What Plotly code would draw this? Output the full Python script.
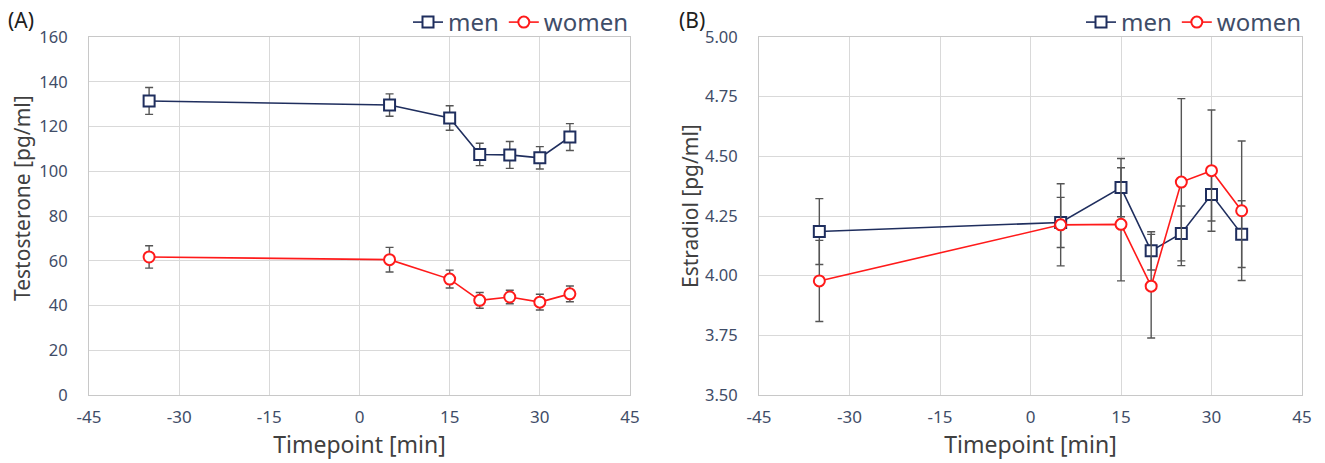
import plotly.graph_objects as go

# ---- data ----
timepoints = [-35, 5, 15, 20, 25, 30, 35]

testo_men = [131.4, 129.6, 123.8, 107.5, 107.3, 106.0, 115.3]
testo_men_err = [6.0, 5.0, 5.5, 5.0, 6.0, 5.0, 6.0]
testo_women = [61.7, 60.5, 51.8, 42.3, 43.8, 41.5, 45.2]
testo_women_err = [5.0, 5.5, 4.0, 3.5, 3.0, 3.5, 3.5]

estr_men = [4.185, 4.223, 4.369, 4.104, 4.177, 4.340, 4.174]
estr_men_err = [0.138, 0.105, 0.122, 0.080, 0.115, 0.111, 0.140]
estr_women = [3.978, 4.213, 4.215, 3.956, 4.392, 4.440, 4.272]
estr_women_err = [0.170, 0.172, 0.237, 0.217, 0.350, 0.254, 0.292]

x_ticks = [-45, -30, -15, 0, 15, 30, 45]
x_tick_labels = ["-45", "-30", "-15", "0", "15", "30", "45"]
testo_ticks = [0, 20, 40, 60, 80, 100, 120, 140, 160]
estr_ticks = [3.50, 3.75, 4.00, 4.25, 4.50, 4.75, 5.00]
estr_tick_labels = ["3.50", "3.75", "4.00", "4.25", "4.50", "4.75", "5.00"]

NAVY = "#1f2e5e"
RED = "#ff1a1a"
ERR = "#555555"
GRID = "#d9d9d9"
TICKC = "#3f4d68"
TITLEC = "#404040"
FONT = "Noto Sans"

fig = go.Figure()


def add_series(x, y, err, name, color, symbol, xa, ya, legend):
    fig.add_trace(go.Scatter(
        x=x, y=y, name=name, mode="lines+markers",
        xaxis=xa, yaxis=ya, legend=legend,
        line=dict(color=color, width=1.6),
        marker=dict(symbol=symbol, size=11, color="white",
                    line=dict(color=color, width=2)),
        error_y=dict(type="data", array=err, visible=True,
                     color=ERR, thickness=1.4, width=4),
    ))


add_series(timepoints, testo_men, testo_men_err, "men", NAVY, "square", "x", "y", "legend")
add_series(timepoints, testo_women, testo_women_err, "women", RED, "circle", "x", "y", "legend")
add_series(timepoints, estr_men, estr_men_err, "men", NAVY, "square", "x2", "y2", "legend2")
add_series(timepoints, estr_women, estr_women_err, "women", RED, "circle", "x2", "y2", "legend2")

W, H = 1325, 463


def px(xp):
    return xp / W


def py(yp):
    return 1 - yp / H


ydom = [py(395), py(37)]

common_x = dict(
    range=[-45, 45], tickmode="array", tickvals=x_ticks, ticktext=x_tick_labels,
    showgrid=True, gridcolor=GRID, gridwidth=1,
    showline=True, linecolor="#c8c8c8", linewidth=1, mirror=True,
    zeroline=False, ticks="", ticklabelstandoff=7, automargin=False,
    tickfont=dict(family=FONT, size=17, color=TICKC),
    title=dict(text="Timepoint [min]", standoff=5,
               font=dict(family=FONT, size=23, color=TITLEC)),
)

common_y = dict(
    showgrid=True, gridcolor=GRID, tickmode="array",
    showline=True, linecolor="#c8c8c8", mirror=True, zeroline=False,
    ticks="", ticklabelstandoff=17, automargin=False,
    tickfont=dict(family=FONT, size=16.5, color=TICKC),
)


def ytitle(text, xp, yp):
    return dict(text=text, x=px(xp), y=py(yp), xref="paper", yref="paper",
                xanchor="center", yanchor="middle", textangle=-90,
                showarrow=False, font=dict(family=FONT, size=21, color=TITLEC))


fig.update_layout(
    width=W, height=H,
    margin=dict(l=0, r=0, t=0, b=0),
    paper_bgcolor="white", plot_bgcolor="white",
    showlegend=True,
    xaxis=dict(domain=[px(89), px(630)], anchor="y", **common_x),
    xaxis2=dict(domain=[px(759), px(1302)], anchor="y2", **common_x),
    yaxis=dict(domain=ydom, anchor="x", range=[0, 160], tickvals=testo_ticks,
               **common_y),
    yaxis2=dict(domain=ydom, anchor="x2", range=[3.5, 5.0], tickvals=estr_ticks,
                ticktext=estr_tick_labels, **common_y),
    legend=dict(orientation="h", x=px(634), xanchor="right", y=1.0, yanchor="top",
                font=dict(family=FONT, size=24, color=TICKC),
                bgcolor="rgba(0,0,0,0)", itemwidth=30, tracegroupgap=0),
    legend2=dict(orientation="h", x=px(1307), xanchor="right", y=1.0, yanchor="top",
                 font=dict(family=FONT, size=24, color=TICKC),
                 bgcolor="rgba(0,0,0,0)", itemwidth=30, tracegroupgap=0),
    annotations=[
        dict(text="(A)", x=px(6), y=py(20), xref="paper", yref="paper",
             xanchor="left", yanchor="middle", showarrow=False,
             font=dict(family=FONT, size=21, color="#202020")),
        dict(text="(B)", x=px(677), y=py(20), xref="paper", yref="paper",
             xanchor="left", yanchor="middle", showarrow=False,
             font=dict(family=FONT, size=21, color="#202020")),
        ytitle("Testosterone [pg/ml]", 22, 198),
        ytitle("Estradiol [pg/ml]", 690, 206),
    ],
)

fig.write_html("out.html", config={"displayModeBar": False},
               post_script="document.body.style.margin='0';")
